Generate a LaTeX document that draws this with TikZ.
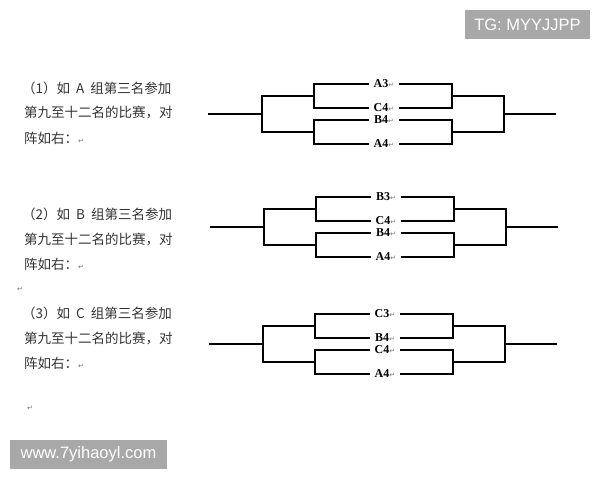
\documentclass[tikz,border=0pt]{standalone}
\usepackage{fontspec}
\setmainfont{Liberation Serif}
\setsansfont{Liberation Sans}
\newfontfamily\cjk{Noto Sans CJK SC}
\newfontfamily\symb{DejaVu Sans}
\newcommand{\parmark}{{\symb\mdseries\fontsize{7}{7}\selectfont\color{black!55}↵}}
\definecolor{wmgray}{HTML}{A8A8A8}
\tikzset{
  team/.style={font=\bfseries\fontsize{12}{13}\selectfont, inner xsep=5pt, inner ysep=2pt},
  bracket/.style={line width=1.1pt},
  para/.style={anchor=west, inner sep=0pt, font=\cjk\fontsize{13.5}{15}\selectfont, text=black!80},
  wmark/.style={fill=wmgray, text=white, font=\sffamily\fontsize{16.5}{18}\selectfont, inner sep=0pt}
}
\begin{document}
\begin{tikzpicture}[x=1pt,y=-1pt]
\useasboundingbox (0,0) rectangle (600,480);
\node[wmark, minimum width=125pt, minimum height=29pt] (tg) at (527.5,24.5) {TG: MYYJJPP};
\node[wmark, minimum width=157pt, minimum height=29pt] (site) at (88.5,454.5) {www.7yihaoyl.com};
\foreach \y/\g [count=\i] in {88/A,214/B,313/C} {
  \node[para] (p\i-1) at (22,\y) {（\i）如\hspace{6pt}\g\hspace{6pt}组第三名参加};
  \node[para] (p\i-2) at (24,\y+25) {第九至十二名的比赛，对};
  \node[para] (p\i-3) at (24,\y+50) {阵如右：\parmark};
}
\node[para] (m1) at (17,289) {\parmark};
\node[para] (m2) at (27,408) {\parmark};
\foreach \y/\dx/\a/\b/\c/\d [count=\i] in {84/0/A3/C4/B4/A4, 197/2/B3/C4/B4/A4, 314/1/C3/B4/C4/A4} {
  \begin{scope}[shift={(\dx,\y)}]
    \foreach \lbl/\ly [count=\j] in {\a/0,\b/24,\c/36,\d/60}
      \node[team] (t\i-\j) at (384,\ly) {\lbl\parmark};
    \draw[bracket] (t\i-1.west) -| (314,24) -- (t\i-2.west);
    \draw[bracket] (t\i-3.west) -| (314,60) -- (t\i-4.west);
    \draw[bracket] (t\i-1.east) -| (452,24) -- (t\i-2.east);
    \draw[bracket] (t\i-3.east) -| (452,60) -- (t\i-4.east);
    \draw[bracket] (314,12) -| (262,48) -- (314,48) (208,30) -- (262,30);
    \draw[bracket] (452,12) -| (504,48) -- (452,48) (504,30) -- (556,30);
  \end{scope}
}
\end{tikzpicture}
\end{document}
